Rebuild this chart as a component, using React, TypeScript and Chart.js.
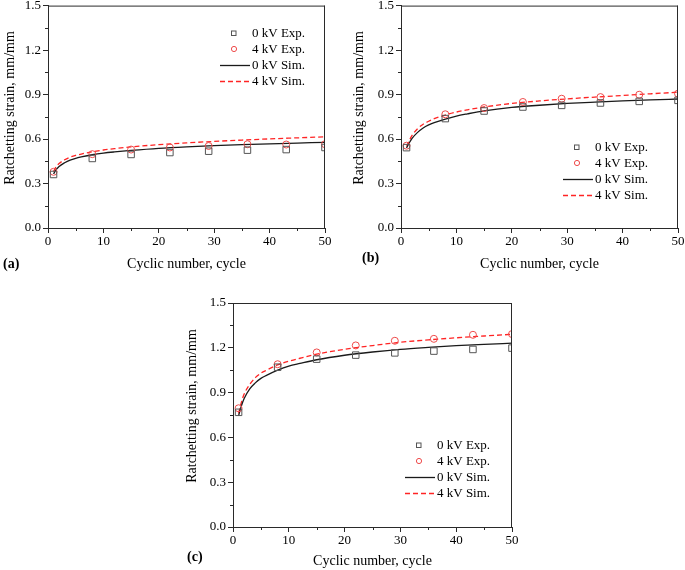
import React, { useEffect, useRef } from 'react';
import { Chart, registerables } from 'chart.js';

Chart.register(...registerables);

// ---------- data ----------
const X_EXP = [1, 8, 15, 22, 29, 36, 43, 50];
const X_SIM = [1, 1.5, 2, 3, 4, 5, 6, 8, 10, 12, 15, 20, 25, 30, 35, 40, 45, 50];

const A_EXP_0 = [0.361, 0.469, 0.496, 0.509, 0.518, 0.525, 0.529, 0.543];
const A_EXP_4 = [0.379, 0.498, 0.529, 0.543, 0.553, 0.565, 0.563, 0.565];
const A_SIM_0 = [0.365, 0.395, 0.415, 0.44, 0.458, 0.47, 0.479, 0.494, 0.505, 0.513, 0.523, 0.537, 0.547, 0.555, 0.562, 0.568, 0.573, 0.578];
const A_SIM_4 = [0.38, 0.415, 0.435, 0.46, 0.478, 0.49, 0.499, 0.514, 0.526, 0.535, 0.547, 0.562, 0.574, 0.584, 0.593, 0.601, 0.608, 0.615];

const B_EXP_0 = [0.542, 0.738, 0.789, 0.816, 0.827, 0.843, 0.854, 0.861];
const B_EXP_4 = [0.555, 0.767, 0.809, 0.85, 0.872, 0.883, 0.899, 0.906];
const B_SIM_0 = [0.54, 0.575, 0.605, 0.645, 0.675, 0.695, 0.71, 0.735, 0.755, 0.77, 0.79, 0.813, 0.828, 0.84, 0.849, 0.857, 0.864, 0.87];
const B_SIM_4 = [0.55, 0.59, 0.625, 0.67, 0.7, 0.72, 0.737, 0.762, 0.782, 0.797, 0.816, 0.84, 0.857, 0.871, 0.883, 0.894, 0.905, 0.916];

const C_EXP_0 = [0.768, 1.07, 1.124, 1.151, 1.166, 1.178, 1.189, 1.198];
const C_EXP_4 = [0.795, 1.09, 1.169, 1.216, 1.247, 1.26, 1.287, 1.292];
const C_SIM_0 = [0.745, 0.81, 0.86, 0.925, 0.965, 0.995, 1.015, 1.05, 1.077, 1.095, 1.12, 1.15, 1.172, 1.19, 1.203, 1.214, 1.223, 1.231];
const C_SIM_4 = [0.76, 0.835, 0.89, 0.955, 1.0, 1.03, 1.05, 1.085, 1.11, 1.13, 1.157, 1.19, 1.215, 1.237, 1.253, 1.267, 1.279, 1.29];

const X_MIN = 0, X_MAX = 50, X_STEP = 10;
const Y_MIN = 0, Y_MAX = 1.5, Y_STEP = 0.3;
const X_MINOR = [5, 15, 25, 35, 45];
const Y_MINOR = [0.15, 0.45, 0.75, 1.05, 1.35];

const SERIES_LABELS = ['0 kV Exp.', '4 kV Exp.', '0 kV Sim.', '4 kV Sim.'];
const X_TITLE = 'Cyclic number, cycle';
const Y_TITLE = 'Ratchetting strain, mm/mm';
const PANEL_LABELS = ['(a)', '(b)', '(c)'];

// ---------- layout / style ----------
const FONT = "'Liberation Serif', 'Times New Roman', serif";
const AXIS = '#2a2a2a';
const TEXT = '#000000';

const PANELS = [
  {
    label: PANEL_LABELS[0], left: 0, top: 0, w: 340, h: 280,
    area: { l: 48, r: 325, t: 5, b: 228 },
    yTitle: { x: 10, y: 108 }, xTitleY: 264,
    tag: { x: 3, y: 264 }, legend: { x: 252, y: 33 },
    series: [A_EXP_0, A_EXP_4, A_SIM_0, A_SIM_4],
  },
  {
    label: PANEL_LABELS[1], left: 340, top: 0, w: 345, h: 280,
    area: { l: 61, r: 338, t: 5, b: 228 },
    yTitle: { x: 19, y: 108 }, xTitleY: 264,
    tag: { x: 22, y: 258 }, legend: { x: 255, y: 147 },
    series: [B_EXP_0, B_EXP_4, B_SIM_0, B_SIM_4],
  },
  {
    label: PANEL_LABELS[2], left: 180, top: 280, w: 340, h: 290,
    area: { l: 53, r: 332, t: 23, b: 247 },
    yTitle: { x: 12, y: 126 }, xTitleY: 283,
    tag: { x: 7, y: 277 }, legend: { x: 257, y: 165 },
    series: [C_EXP_0, C_EXP_4, C_SIM_0, C_SIM_4],
  },
];

const pts = (xs: number[], ys: number[]) => xs.map((x, i) => ({ x, y: ys[i] }));

function makeDecor(p: any) {
  return {
    id: 'decor',
    afterDraw(chart: any) {
      const { ctx, chartArea } = chart;
      const xs = chart.scales.x;
      const ys = chart.scales.y;
      ctx.save();
      // frame top/right
      ctx.strokeStyle = AXIS;
      ctx.lineWidth = 1;
      ctx.beginPath();
      ctx.moveTo(chartArea.left, chartArea.top + 0.5);
      ctx.lineTo(chartArea.right, chartArea.top + 0.5);
      ctx.moveTo(chartArea.right - 0.5, chartArea.top);
      ctx.lineTo(chartArea.right - 0.5, chartArea.bottom);
      ctx.stroke();
      // minor ticks
      ctx.beginPath();
      X_MINOR.forEach((v) => {
        const px = Math.round(xs.getPixelForValue(v)) + 0.5;
        ctx.moveTo(px, chartArea.bottom);
        ctx.lineTo(px, chartArea.bottom + 3);
      });
      Y_MINOR.forEach((v) => {
        const py = Math.round(ys.getPixelForValue(v)) + 0.5;
        ctx.moveTo(chartArea.left - 3, py);
        ctx.lineTo(chartArea.left, py);
      });
      ctx.stroke();
      // y title
      ctx.fillStyle = TEXT;
      ctx.font = `14px ${FONT}`;
      ctx.textAlign = 'center';
      ctx.textBaseline = 'middle';
      ctx.save();
      ctx.translate(p.yTitle.x, p.yTitle.y);
      ctx.rotate(-Math.PI / 2);
      ctx.fillText(Y_TITLE, 0, 0);
      ctx.restore();
      // panel tag
      ctx.font = `bold 14px ${FONT}`;
      ctx.textAlign = 'left';
      ctx.fillText(p.label, p.tag.x, p.tag.y);
      // legend
      ctx.font = `13px ${FONT}`;
      chart.data.datasets.forEach((ds: any, i: number) => {
        const cy = p.legend.y + i * 16;
        const lx = p.legend.x;
        ctx.save();
        ctx.strokeStyle = ds.borderColor;
        ctx.lineWidth = ds.showLine ? ds.borderWidth : 1;
        if (ds.showLine) {
          ctx.setLineDash(ds.borderDash || []);
          ctx.beginPath();
          ctx.moveTo(lx - 32, cy + 0.5);
          ctx.lineTo(lx - 2, cy + 0.5);
          ctx.stroke();
        } else if (ds.pointStyle === 'rect') {
          ctx.strokeRect(lx - 20.5, cy - 2, 4.5, 4.5);
        } else {
          ctx.beginPath();
          ctx.arc(lx - 18, cy, 2.6, 0, Math.PI * 2);
          ctx.stroke();
        }
        ctx.restore();
        ctx.fillStyle = TEXT;
        ctx.textAlign = 'left';
        ctx.fillText(ds.label, lx, cy + 0.5);
      });
      ctx.restore();
    },
  };
}

function Panel({ p }: { p: any }) {
  const ref = useRef<HTMLCanvasElement>(null);
  useEffect(() => {
    const canvas = ref.current!;
    const [e0, e4, s0, s4] = p.series;
    const titlePad = Math.max(0, p.h - p.xTitleY - 8.4);
    const chart = new Chart(canvas, {
      type: 'scatter',
      data: {
        datasets: [
          {
            label: SERIES_LABELS[0], data: pts(X_EXP, e0), showLine: false,
            pointStyle: 'rect', pointRadius: 4.6, pointBorderWidth: 1,
            borderColor: '#555555', backgroundColor: 'rgba(0,0,0,0)',
            pointBorderColor: '#555555', pointBackgroundColor: 'rgba(0,0,0,0)',
          },
          {
            label: SERIES_LABELS[1], data: pts(X_EXP, e4), showLine: false,
            pointStyle: 'circle', pointRadius: 3.5, pointBorderWidth: 1,
            borderColor: '#ee4b4b', backgroundColor: 'rgba(0,0,0,0)',
            pointBorderColor: '#ee4b4b', pointBackgroundColor: 'rgba(0,0,0,0)',
          },
          {
            label: SERIES_LABELS[2], data: pts(X_SIM, s0), showLine: true,
            pointRadius: 0, borderColor: '#1a1a1a', borderWidth: 1.3,
            cubicInterpolationMode: 'monotone', backgroundColor: 'rgba(0,0,0,0)',
          },
          {
            label: SERIES_LABELS[3], data: pts(X_SIM, s4), showLine: true,
            pointRadius: 0, borderColor: '#ff2424', borderWidth: 1.3, borderDash: [5, 3],
            cubicInterpolationMode: 'monotone', backgroundColor: 'rgba(0,0,0,0)',
          },
        ],
      } as any,
      options: {
        responsive: false,
        animation: false,
        events: [],
        layout: { padding: { left: 0, top: p.area.t, right: p.w - p.area.r, bottom: 0 } },
        plugins: { legend: { display: false }, tooltip: { enabled: false } },
        scales: {
          x: {
            type: 'linear', min: X_MIN, max: X_MAX,
            grid: { drawOnChartArea: false, drawTicks: true, tickLength: 5, color: AXIS, lineWidth: 1 },
            border: { display: true, color: AXIS, width: 1 },
            ticks: { stepSize: X_STEP, padding: 1, color: TEXT, font: { family: FONT, size: 13 } },
            title: { display: true, text: X_TITLE, color: TEXT, font: { family: FONT, size: 14 }, padding: { top: 0, bottom: titlePad } },
            afterFit: (s: any) => {
              s.height = p.h - p.area.b;
              s.paddingLeft = 0; s.paddingRight = 0;
            },
          },
          y: {
            type: 'linear', min: Y_MIN, max: Y_MAX,
            grid: { drawOnChartArea: false, drawTicks: true, tickLength: 5, color: AXIS, lineWidth: 1 },
            border: { display: true, color: AXIS, width: 1 },
            ticks: {
              stepSize: Y_STEP, padding: 2, color: TEXT, font: { family: FONT, size: 13 },
              callback: (v: any) => Number(v).toFixed(1),
            },
            afterFit: (s: any) => {
              s.width = p.area.l;
              s.paddingTop = 0; s.paddingBottom = 0;
            },
          },
        },
      } as any,
      plugins: [makeDecor(p)],
    });
    return () => chart.destroy();
  }, [p]);
  return (
    <canvas
      ref={ref}
      width={p.w}
      height={p.h}
      style={{ position: 'absolute', left: p.left, top: p.top, width: p.w, height: p.h }}
    />
  );
}

export default function App() {
  return (
    <div style={{ position: 'absolute', left: 0, top: 0, width: 685, height: 570, background: '#ffffff' }}>
      {PANELS.map((p) => (
        <Panel key={p.label} p={p} />
      ))}
    </div>
  );
}
